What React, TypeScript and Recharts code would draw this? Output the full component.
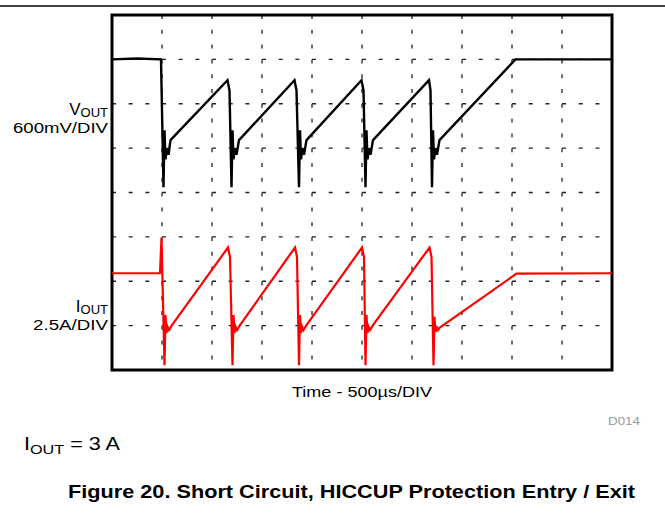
import { LineChart, Line, XAxis, YAxis, CartesianGrid, ReferenceArea } from 'recharts'

// time in scope divisions (500 µs/DIV), levels in scope divisions from the bottom of the screen
const xTicks = [0, 1, 2, 3, 4, 5, 6, 7, 8, 9, 10]
const yTicks = [0, 1, 2, 3, 4, 5, 6, 7, 8]

const voutTime = [
    0, 0.5, 0.98, 1.03, 1.05, 1.07, 1.1, 1.13, 1.17, 2.31, 2.35, 2.39,
    2.41, 2.43, 2.46, 2.49, 2.54, 3.65, 3.69, 3.74,
    3.76, 3.78, 3.81, 3.84, 3.89, 4.99, 5.03, 5.07,
    5.09, 5.11, 5.14, 5.17, 5.22, 6.34, 6.37, 6.4,
    6.42, 6.44, 6.47, 6.5, 6.55, 8.07, 10,
]
const voutLevel = [
    7.0, 7.02, 7.0, 4.12, 5.4, 4.75, 5.0, 4.85, 5.18, 6.53, 6.3, 4.12,
    5.4, 4.75, 5.0, 4.85, 5.18, 6.53, 6.3, 4.12,
    5.4, 4.75, 5.0, 4.85, 5.18, 6.53, 6.3, 4.12,
    5.4, 4.75, 5.0, 4.85, 5.18, 6.53, 6.3, 4.12,
    5.4, 4.75, 5.0, 4.85, 5.18, 7.0, 7.0,
]

const ioutTime = [
    0, 0.96, 0.99, 1.05, 1.07, 1.09, 1.11, 1.14, 1.2, 2.32, 2.36, 2.41,
    2.43, 2.45, 2.47, 2.5, 2.56, 3.66, 3.7, 3.74,
    3.76, 3.78, 3.8, 3.83, 3.89, 5.0, 5.04, 5.07,
    5.09, 5.11, 5.13, 5.16, 5.22, 6.35, 6.39, 6.43,
    6.45, 6.47, 6.5, 6.52, 6.55, 8.09, 10,
]
const ioutLevel = [
    2.18, 2.18, 2.98, 0.11, 1.24, 0.83, 0.98, 0.9, 1.01, 2.76, 2.55, 0.11,
    1.24, 0.83, 0.98, 0.9, 1.01, 2.76, 2.55, 0.11,
    1.24, 0.83, 0.98, 0.9, 1.01, 2.76, 2.55, 0.11,
    1.24, 0.83, 0.98, 0.9, 1.01, 2.76, 2.55, 0.11,
    1.2, 0.86, 0.95, 0.9, 0.95, 2.17, 2.18,
]

const voutData = voutTime.map((t, i) => ({ t, v: voutLevel[i] }))
const ioutData = ioutTime.map((t, i) => ({ t, v: ioutLevel[i] }))

const font = '"Liberation Sans", Arial, sans-serif'

export default function App() {
    return (
        <div style={{ position: 'absolute', left: 0, top: 0, width: 665, height: 514, background: '#fff' }}>
            <LineChart width={665} height={514} margin={{ top: 15, right: 53, bottom: 144, left: 112 }}>
                <XAxis type="number" dataKey="t" domain={[0, 10]} ticks={xTicks} hide allowDuplicatedCategory={false} />
                <YAxis type="number" domain={[0, 8]} ticks={yTicks} hide />
                <CartesianGrid horizontal vertical={false} stroke="#222" strokeWidth={1.3} strokeDasharray="4 12.67" />
                <CartesianGrid horizontal={false} vertical stroke="#222" strokeWidth={1.3} strokeDasharray="4 10.8" />
                <Line data={voutData} dataKey="v" type="linear" stroke="#000" strokeWidth={2.4} dot={false} isAnimationActive={false} />
                <Line data={ioutData} dataKey="v" type="linear" stroke="#ff0000" strokeWidth={2.2} dot={false} isAnimationActive={false} />
                <ReferenceArea x1={0} x2={10} y1={0} y2={8} fill="none" stroke="#000" strokeWidth={3} ifOverflow="visible" />
            </LineChart>

            <svg width={665} height={514} style={{ position: 'absolute', left: 0, top: 0, pointerEvents: 'none' }} fontFamily={font}>
                <line x1={0} y1={6} x2={665} y2={6} stroke="#000" strokeWidth={1.5} />

                <text x={108} y={115} textAnchor="end" fontSize={17}>
                    V<tspan fontSize={13} dy={2}>OUT</tspan>
                </text>
                <text x={108} y={133} textAnchor="end" fontSize={15.5} textLength={95} lengthAdjust="spacingAndGlyphs">600mV/DIV</text>

                <text x={108} y={312} textAnchor="end" fontSize={17}>
                    I<tspan fontSize={13} dy={2}>OUT</tspan>
                </text>
                <text x={108} y={330} textAnchor="end" fontSize={15.5} textLength={75} lengthAdjust="spacingAndGlyphs">2.5A/DIV</text>

                <text x={292} y={397} fontSize={15.5} textLength={140} lengthAdjust="spacingAndGlyphs">Time - 500µs/DIV</text>
                <text x={608} y={425} fontSize={11} fill="#999" textLength={32} lengthAdjust="spacingAndGlyphs">D014</text>

                <g transform="translate(24,450) scale(1.2,1)">
                    <text x={0} y={0} fontSize={18}>
                        I<tspan fontSize={13.5} dy={4}>OUT</tspan><tspan dy={-4}> = 3 A</tspan>
                    </text>
                </g>

                <text x={68} y={498} fontSize={17.5} fontWeight="bold" textLength={567} lengthAdjust="spacingAndGlyphs">
                    Figure 20. Short Circuit, HICCUP Protection Entry / Exit
                </text>
            </svg>
        </div>
    )
}
